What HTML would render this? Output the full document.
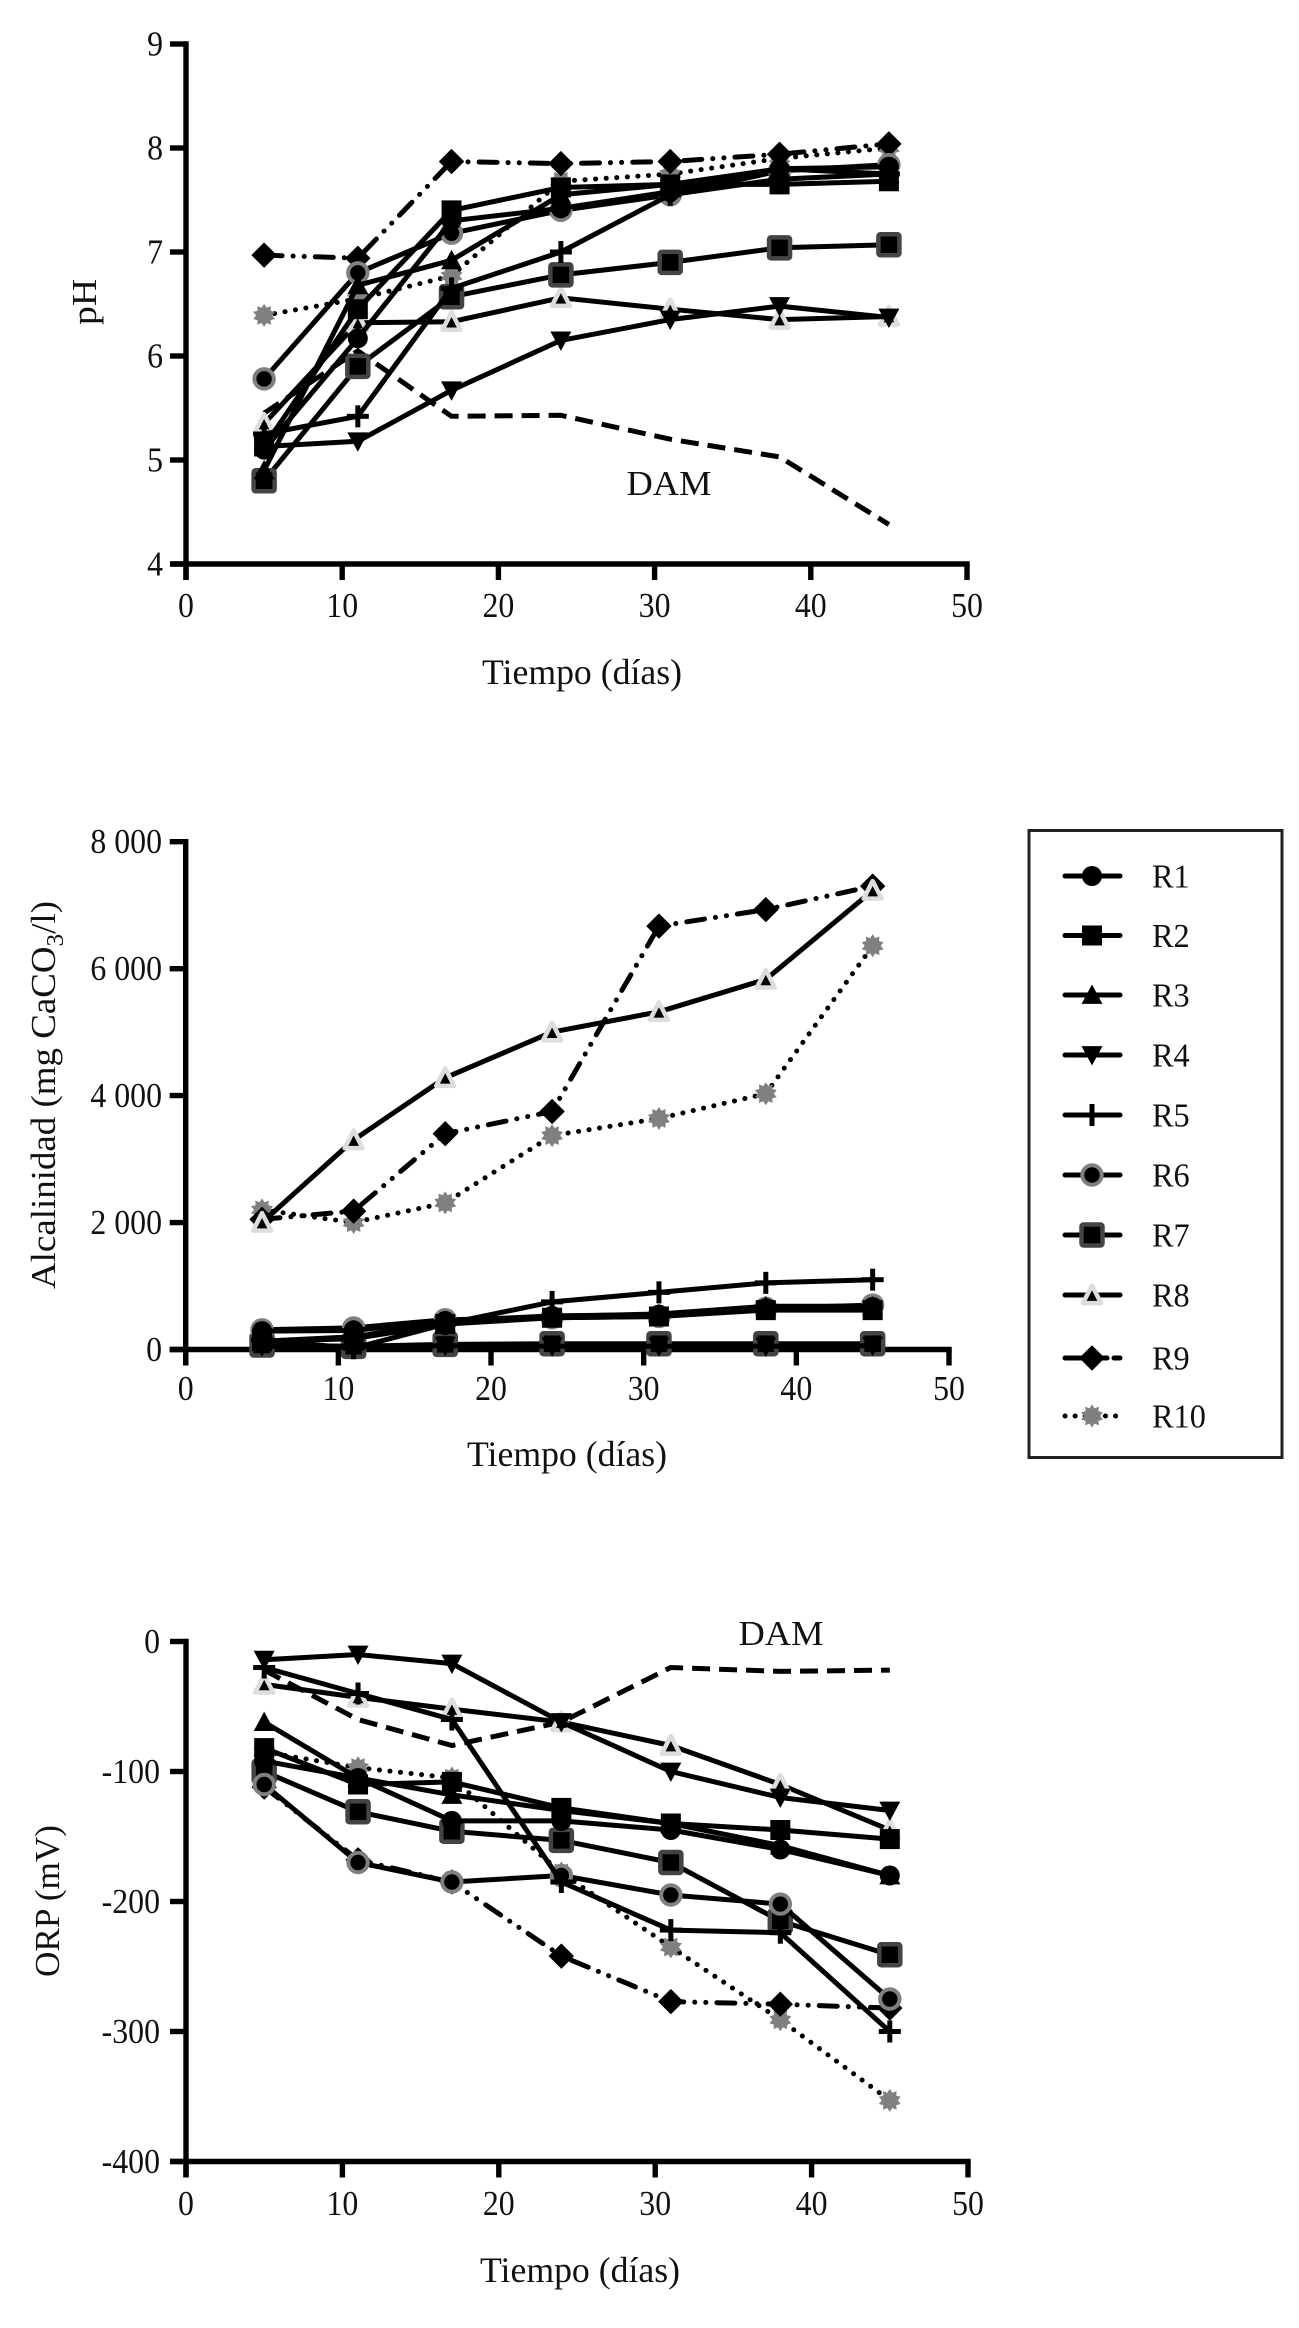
<!DOCTYPE html>
<html lang="es">
<head>
<meta charset="utf-8">
<title>pH, alcalinidad y ORP frente al tiempo</title>
<style>
html,body{margin:0;padding:0;background:#fff;}
#stage{display:block;width:1299px;height:2328px;}
text{font-family:"Liberation Serif",serif;fill:#111;}
</style>
</head>
<body>
<svg id="stage" xmlns="http://www.w3.org/2000/svg" width="1299" height="2328" viewBox="0 0 1299 2328"></svg>
<script>
// Shared category axis
const days = [5, 11, 17, 24, 31, 38, 45];
const xTicks = [0, 10, 20, 30, 40, 50];
const seriesNames = ['R1', 'R2', 'R3', 'R4', 'R5', 'R6', 'R7', 'R8', 'R9', 'R10'];

// pH panel
const phTicks = [4, 5, 6, 7, 8, 9];
const phTickLabels = ['4', '5', '6', '7', '8', '9'];
const phR1 = [5.1, 6.17, 7.3, 7.42, 7.58, 7.8, 7.82];
const phR2 = [5.13, 6.45, 7.4, 7.62, 7.65, 7.65, 7.68];
const phR3 = [4.9, 6.68, 6.92, 7.55, 7.65, 7.8, 7.75];
const phR4 = [5.13, 5.18, 5.67, 6.15, 6.35, 6.48, 6.37];
const phR5 = [5.25, 5.42, 6.65, 7.0, 7.55, 7.7, 7.75];
const phR6 = [5.78, 6.8, 7.18, 7.4, 7.55, 7.78, 7.84];
const phR7 = [4.8, 5.9, 6.57, 6.78, 6.9, 7.04, 7.07];
const phR8 = [5.35, 6.32, 6.33, 6.56, 6.45, 6.35, 6.38];
const phR9 = [6.97, 6.94, 7.87, 7.85, 7.87, 7.94, 8.04];
const phR10 = [6.39, 6.55, 6.77, 7.68, 7.75, 7.9, 8.0];
const phDam = [5.45, 6.05, 5.42, 5.43, 5.2, 5.03, 4.38];

// Alkalinity panel
const alkTicks = [0, 2000, 4000, 6000, 8000];
const alkTickLabels = ['0', '2 000', '4 000', '6 000', '8 000'];
const alkR1 = [290, 300, 450, 530, 550, 650, 670];
const alkR2 = [130, 170, 400, 500, 520, 620, 620];
const alkR3 = [130, 200, 420, 520, 560, 680, 680];
const alkR4 = [50, 50, 60, 50, 50, 50, 60];
const alkR5 = [150, 20, 400, 750, 900, 1050, 1100];
const alkR6 = [310, 340, 470, 500, 520, 650, 700];
const alkR7 = [70, 50, 80, 90, 90, 90, 90];
const alkR8 = [2000, 3300, 4280, 5000, 5320, 5830, 7230];
const alkR9 = [2050, 2180, 3400, 3750, 6670, 6930, 7300];
const alkR10 = [2200, 2000, 2310, 3370, 3640, 4030, 6360];

// ORP panel
const orpTicks = [0, -100, -200, -300, -400];
const orpTickLabels = ['0', '-100', '-200', '-300', '-400'];
const orpR1 = [-92, -105, -138, -138, -145, -160, -180];
const orpR2 = [-82, -110, -108, -128, -140, -145, -152];
const orpR3 = [-62, -105, -118, -130, -140, -157, -180];
const orpR4 = [-14, -10, -17, -62, -100, -120, -130];
const orpR5 = [-20, -40, -60, -185, -222, -224, -300];
const orpR6 = [-110, -170, -185, -180, -195, -202, -275];
const orpR7 = [-100, -131, -146, -153, -170, -215, -241];
const orpR8 = [-33, -43, -52, -62, -80, -110, -145];
const orpR9 = [-112, -168, -185, -242, -277, -279, -282];
const orpR10 = [-85, -97, -105, -178, -235, -291, -353];
const orpDam = [-22, -60, -80, -62, -20, -23, -22];

const NS = 'http://www.w3.org/2000/svg';
const stage = document.getElementById('stage');

function mk(tag, attrs, parent) {
  const el = document.createElementNS(NS, tag);
  for (const k in attrs) el.setAttribute(k, attrs[k]);
  parent.appendChild(el);
  return el;
}

const dashFor = {
  R9: '18 11 0.1 11 0.1 11',
  R10: '0.1 10.5',
  DAM: '18 9'
};

function starPoints(cx, cy) {
  const pts = [];
  for (let i = 0; i < 20; i++) {
    const r = i % 2 ? 8 : 11.5;
    const a = Math.PI * i / 10;
    pts.push((cx + r * Math.sin(a)).toFixed(1) + ',' + (cy - r * Math.cos(a)).toFixed(1));
  }
  return pts.join(' ');
}

function triPoints(cx, cy, dir, h, w) {
  return [cx + ',' + (cy - dir * h), (cx + w) + ',' + (cy + dir * h * 0.85), (cx - w) + ',' + (cy + dir * h * 0.85)].join(' ');
}

function drawMarker(name, cx, cy, parent) {
  if (name === 'R1') {
    mk('circle', {cx: cx, cy: cy, r: 10, fill: '#000'}, parent);
  } else if (name === 'R2') {
    mk('rect', {x: cx - 10, y: cy - 10, width: 20, height: 20, fill: '#000'}, parent);
  } else if (name === 'R3') {
    mk('polygon', {points: triPoints(cx, cy, 1, 10.5, 10.5), fill: '#000'}, parent);
  } else if (name === 'R4') {
    mk('polygon', {points: triPoints(cx, cy, -1, 10.5, 10.5), fill: '#000'}, parent);
  } else if (name === 'R5') {
    mk('rect', {x: cx - 2.5, y: cy - 11, width: 5, height: 22, fill: '#000'}, parent);
    mk('rect', {x: cx - 11, y: cy - 2.5, width: 22, height: 5, fill: '#000'}, parent);
  } else if (name === 'R6') {
    mk('circle', {cx: cx, cy: cy, r: 9.7, fill: '#000', stroke: '#808080', 'stroke-width': 4}, parent);
  } else if (name === 'R7') {
    mk('rect', {x: cx - 10.5, y: cy - 10.5, width: 21, height: 21, rx: 2, fill: '#000', stroke: '#444', 'stroke-width': 4.5}, parent);
  } else if (name === 'R8') {
    mk('polygon', {points: triPoints(cx, cy, 1, 9.5, 9), fill: '#000', stroke: '#ddd', 'stroke-width': 4.5, 'stroke-linejoin': 'round'}, parent);
  } else if (name === 'R9') {
    mk('polygon', {points: [cx + ',' + (cy - 12), (cx + 12) + ',' + cy, cx + ',' + (cy + 12), (cx - 12) + ',' + cy].join(' '), fill: '#000', stroke: '#000', 'stroke-width': 1, 'stroke-linejoin': 'round'}, parent);
  } else if (name === 'R10') {
    mk('polygon', {points: starPoints(cx, cy), fill: '#808080'}, parent);
  }
}

function drawLine(name, values, xf, yf, parent) {
  const pts = values.map((v, i) => xf(days[i]).toFixed(1) + ',' + yf(v).toFixed(1)).join(' ');
  const attrs = {points: pts, fill: 'none', stroke: '#000', 'stroke-width': 5, 'stroke-linejoin': 'round'};
  if (dashFor[name]) {
    attrs['stroke-dasharray'] = dashFor[name];
    attrs['stroke-linecap'] = name === 'DAM' ? 'butt' : 'round';
  }
  return mk('polyline', attrs, parent);
}

function addText(str, attrs, parent) {
  const el = mk('text', attrs, parent);
  el.textContent = str;
  return el;
}

function drawPanel(cfg) {
  const root = mk('g', {}, stage);
  
  

  const xf = d => cfg.x0 + (cfg.x1 - cfg.x0) * d / 50;
  const yf = v => cfg.yBottom + (cfg.yTop - cfg.yBottom) * (v - cfg.vBottom) / (cfg.vTop - cfg.vBottom);

  const axes = mk('g', {stroke: '#000', 'stroke-width': 5.4, fill: 'none'}, root);
  
  
  mk('line', {x1: cfg.x0, y1: cfg.yTop - 2.7, x2: cfg.x0, y2: cfg.yBottom + 16}, axes);
  mk('line', {x1: cfg.x0 - 16, y1: cfg.yBottom, x2: cfg.x1 + 2.7, y2: cfg.yBottom}, axes);

  xTicks.forEach(t => {
    mk('line', {x1: xf(t), y1: cfg.yBottom, x2: xf(t), y2: cfg.yBottom + 16}, axes);
    const lab = addText(String(t), {transform: 'translate(' + xf(t) + ',' + cfg.xLabelY + ') scale(0.91,1)', 'font-size': 35, 'text-anchor': 'middle'}, root);
    
    
  });
  cfg.ticks.forEach((t, i) => {
    mk('line', {x1: cfg.x0 - 16, y1: yf(t), x2: cfg.x0, y2: yf(t)}, axes);
    const lab = addText(cfg.tickLabels[i], {transform: 'translate(' + cfg.yLabelX + ',' + (yf(t) + 11.5) + ') scale(0.91,1)', 'font-size': 35, 'text-anchor': 'end'}, root);
    
    
  });

  const xTitle = addText('Tiempo (días)', {x: cfg.xTitleX, y: cfg.xTitleY, 'font-size': 35.5, 'text-anchor': 'middle', textLength: 200, lengthAdjust: 'spacingAndGlyphs'}, root);
  
  

  const yTitle = mk('text', {transform: 'translate(' + cfg.yTitleX + ',' + cfg.yTitleY + ') rotate(-90)', 'font-size': 35, 'text-anchor': 'middle', textLength: cfg.yTitleLen, lengthAdjust: 'spacingAndGlyphs'}, root);
  
  
  cfg.yTitle.forEach(part => {
    const span = mk('tspan', part.sub ? {'font-size': 24, dy: 8} : (part.after ? {dy: -8} : {}), yTitle);
    span.textContent = part.t;
  });

  if (cfg.dam) {
    const dg = mk('g', {}, root);
    
    
    drawLine('DAM', cfg.dam, xf, yf, dg);
    const dl = addText('DAM', {x: cfg.damX, y: cfg.damY, 'font-size': 35, 'text-anchor': 'middle', textLength: 85, lengthAdjust: 'spacingAndGlyphs'}, root);
    
    
  }

  // R10 is painted first, R1 last (topmost) as in the source figure
  for (let s = seriesNames.length - 1; s >= 0; s--) {
    const name = seriesNames[s];
    const g = mk('g', {}, root);
    
    
    drawLine(name, cfg.series[s], xf, yf, g);
    cfg.series[s].forEach((v, i) => {
      drawMarker(name, xf(days[i]), yf(v), g);
    });
  }
}

drawPanel({
  id: 'ph', x0: 186, x1: 967, yTop: 44, yBottom: 564, vTop: 9, vBottom: 4,
  ticks: phTicks, tickLabels: phTickLabels,
  xLabelY: 617, yLabelX: 163, xTitleX: 582, xTitleY: 684,
  yTitle: [{t: 'pH'}], yTitleX: 96, yTitleY: 302, yTitleLen: 46,
  series: [phR1, phR2, phR3, phR4, phR5, phR6, phR7, phR8, phR9, phR10],
  dam: phDam, damX: 669, damY: 495
});

drawPanel({
  id: 'alkalinity', x0: 185.7, x1: 949, yTop: 841.7, yBottom: 1349.5, vTop: 8000, vBottom: 0,
  ticks: alkTicks, tickLabels: alkTickLabels,
  xLabelY: 1400, yLabelX: 162, xTitleX: 567, xTitleY: 1466,
  yTitle: [{t: 'Alcalinidad (mg CaCO'}, {t: '3', sub: true}, {t: '/l)', after: true}], yTitleX: 55, yTitleY: 1095, yTitleLen: 388,
  series: [alkR1, alkR2, alkR3, alkR4, alkR5, alkR6, alkR7, alkR8, alkR9, alkR10]
});

drawPanel({
  id: 'orp', x0: 186, x1: 968, yTop: 1641.5, yBottom: 2161.5, vTop: 0, vBottom: -400,
  ticks: orpTicks, tickLabels: orpTickLabels,
  xLabelY: 2215, yLabelX: 160, xTitleX: 580, xTitleY: 2282,
  yTitle: [{t: 'ORP (mV)'}], yTitleX: 59, yTitleY: 1901, yTitleLen: 152,
  series: [orpR1, orpR2, orpR3, orpR4, orpR5, orpR6, orpR7, orpR8, orpR9, orpR10],
  dam: orpDam, damX: 781, damY: 1645
});

// Legend
const legend = mk('g', {}, stage);


const legendBox = mk('rect', {x: 1029, y: 830.5, width: 253, height: 627, fill: '#fff', stroke: '#222', 'stroke-width': 3}, legend);


const legendRows = [876, 935.5, 995, 1055, 1115, 1175, 1235, 1295, 1358, 1416];
const legendDash = {R9: '42 7 13', R10: '0.1 10'};
seriesNames.forEach((name, i) => {
  const row = mk('g', {}, legend);
  
  
  const attrs = {x1: 1065, y1: legendRows[i], x2: 1120, y2: legendRows[i], stroke: '#000', 'stroke-width': 5, 'stroke-linecap': 'round'};
  if (legendDash[name]) attrs['stroke-dasharray'] = legendDash[name];
  mk('line', attrs, row);
  drawMarker(name, 1092, legendRows[i], row);
  addText(name, {transform: 'translate(1152,' + (legendRows[i] + 11.5) + ') scale(0.95,1)', 'font-size': 34}, row);
});
</script>
</body>
</html>
